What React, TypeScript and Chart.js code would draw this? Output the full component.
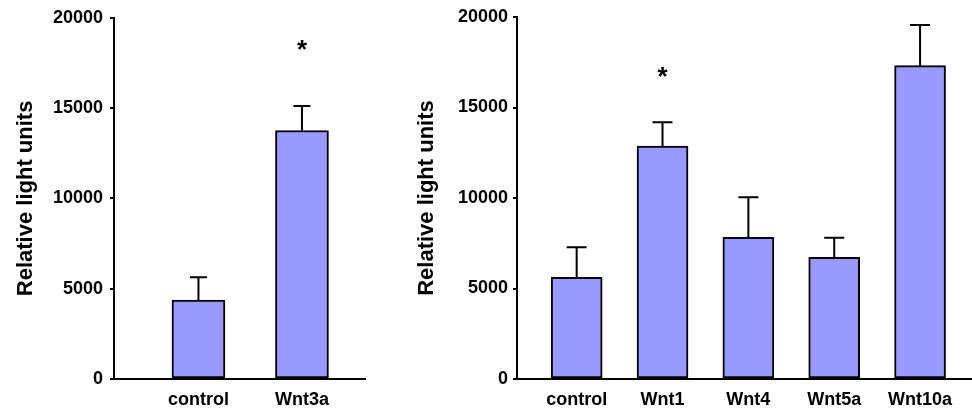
import React, { useEffect, useRef } from "react";
import { Chart, registerables } from "chart.js";

Chart.register(...registerables);

// ---- data ----
const leftCategories = ["control", "Wnt3a"];
const leftValues = [4370, 13760];
const leftErrors = [1270, 1360];
const leftStars: (number | null)[] = [null, 18560];

const rightCategories = ["control", "Wnt1", "Wnt4", "Wnt5a", "Wnt10a"];
const rightValues = [5620, 12870, 7830, 6720, 17310];
const rightErrors = [1660, 1310, 2210, 1090, 2250];
const rightStars: (number | null)[] = [null, 17070, null, null, null];

const yTicks = [0, 5000, 10000, 15000, 20000];
const yTitle = "Relative light units";

const FONT = "'Liberation Sans', Arial, Helvetica, sans-serif";
const BAR_FILL = "#9999ff";

type PanelProps = {
  width: number;
  categories: string[];
  values: number[];
  errors: number[];
  stars: (number | null)[];
  xMin: number;
  xMax: number;
  yAxisWidth: number;
  titlePad: number;
  tickPad: number;
  barThickness: number;
  capWidth: number;
  rightPad: number;
};

function makeOverlay(values: number[], errors: number[], stars: (number | null)[], capW: number) {
  return {
    id: "overlay",
    afterDatasetsDraw(chart: any) {
      const ctx = chart.ctx as CanvasRenderingContext2D;
      const xs = chart.scales.x;
      const ys = chart.scales.y;
      ctx.save();
      ctx.strokeStyle = "#000";
      ctx.lineWidth = 2;
      ctx.lineCap = "butt";
      values.forEach((v, i) => {
        const e = errors[i];
        if (e == null) return;
        const x = xs.getPixelForValue(i);
        const y0 = ys.getPixelForValue(v);
        const y1 = ys.getPixelForValue(v + e);
        ctx.beginPath();
        ctx.moveTo(x, y0);
        ctx.lineTo(x, y1);
        ctx.moveTo(x - capW / 2, y1);
        ctx.lineTo(x + capW / 2, y1);
        ctx.stroke();
      });
      const fs = 26;
      ctx.fillStyle = "#000";
      ctx.font = `bold ${fs}px ${FONT}`;
      ctx.textAlign = "center";
      ctx.textBaseline = "alphabetic";
      stars.forEach((s, i) => {
        if (s == null) return;
        const x = xs.getPixelForValue(i);
        const y = ys.getPixelForValue(s);
        ctx.fillText("*", x, y + 0.56 * fs);
      });
      ctx.restore();
    },
  };
}

function Panel(p: PanelProps) {
  const ref = useRef<HTMLCanvasElement | null>(null);
  useEffect(() => {
    if (!ref.current) return;
    const chart = new Chart(ref.current, {
      type: "bar",
      data: {
        datasets: [
          {
            data: p.values.map((v, i) => ({ x: i, y: v })) as any,
            backgroundColor: BAR_FILL,
            borderColor: "#000",
            borderWidth: 2,
            borderSkipped: false,
            barThickness: p.barThickness,
          } as any,
        ],
      },
      options: {
        animation: false,
        responsive: false,
        events: [],
        layout: { padding: { top: 17, right: p.rightPad, left: 0, bottom: 0 } },
        plugins: { legend: { display: false }, tooltip: { enabled: false } },
        scales: {
          x: {
            type: "linear",
            min: p.xMin,
            max: p.xMax,
            bounds: "data",
            offset: false,
            grid: { display: false, drawTicks: false, offset: false },
            border: { display: true, color: "#000", width: 2 },
            afterBuildTicks: (s: any) => {
              s.ticks = p.categories.map((_, i) => ({ value: i }));
            },
            ticks: {
              autoSkip: false,
              maxRotation: 0,
              padding: 10,
              color: "#000",
              font: { family: FONT, size: 18, weight: "bold" },
              callback: (v: any) => {
                const k = Math.round(Number(v));
                return p.categories[k] !== undefined ? p.categories[k] : "";
              },
            },
            afterFit: (s: any) => {
              s.height = 32;
              s.paddingLeft = 0;
              s.paddingRight = 0;
            },
          },
          y: {
            min: 0,
            max: 20000,
            afterBuildTicks: (s: any) => {
              s.ticks = yTicks.map((v) => ({ value: v }));
            },
            grid: { drawOnChartArea: false, drawTicks: true, tickLength: 4, color: "#000", lineWidth: 2 },
            border: { display: true, color: "#000", width: 2 },
            ticks: {
              padding: p.tickPad,
              color: "#000",
              font: { family: FONT, size: 18, weight: "bold" },
              callback: (v: any) => String(v),
            },
            title: {
              display: true,
              text: yTitle,
              color: "#000",
              font: { family: FONT, size: 22, weight: "bold" },
              padding: { top: p.titlePad, bottom: 0 },
            },
            afterFit: (s: any) => {
              s.width = p.yAxisWidth;
            },
          },
        } as any,
      },
      plugins: [makeOverlay(p.values, p.errors, p.stars, p.capWidth)],
    });
    return () => chart.destroy();
  }, []);
  return <canvas ref={ref} width={p.width} height={411} style={{ display: "block", width: p.width, height: 411 }} />;
}

export default function App() {
  return (
    <div
      style={{
        position: "absolute",
        left: 0,
        top: 0,
        width: 972,
        height: 411,
        background: "#fff",
        display: "flex",
        flexDirection: "row",
      }}
    >
      <Panel
        width={380}
        categories={leftCategories}
        values={leftValues}
        errors={leftErrors}
        stars={leftStars}
        xMin={-0.816}
        xMax={1.609}
        yAxisWidth={114}
        titlePad={13}
        tickPad={7}
        barThickness={53}
        capWidth={17}
        rightPad={15}
      />
      <Panel
        width={592}
        categories={rightCategories}
        values={rightValues}
        errors={rightErrors}
        stars={rightStars}
        xMin={-0.695}
        xMax={4.605}
        yAxisWidth={137}
        titlePad={34}
        tickPad={5}
        barThickness={51}
        capWidth={20}
        rightPad={0}
      />
    </div>
  );
}
